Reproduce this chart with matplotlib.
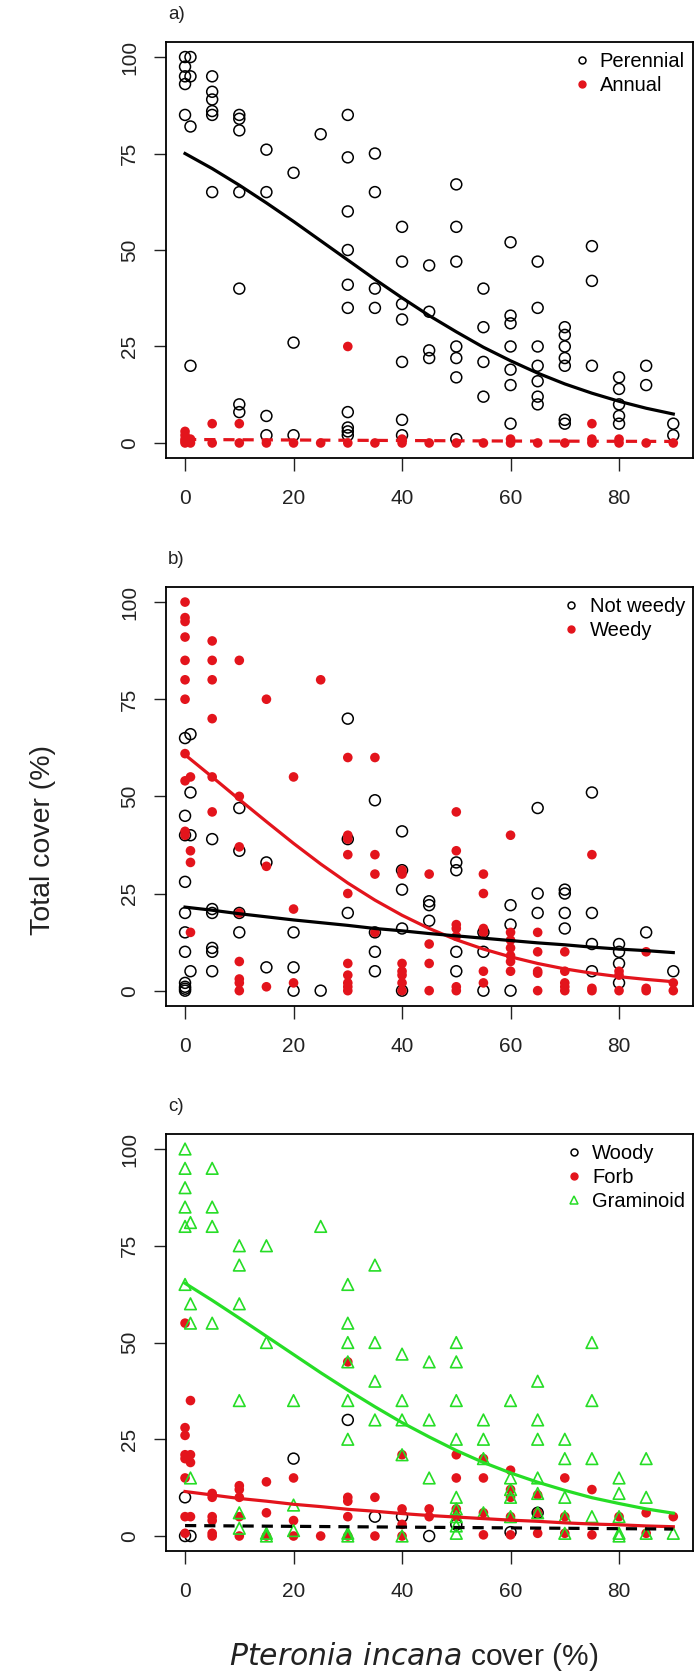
import numpy as np
import matplotlib
matplotlib.use('Agg')
import matplotlib.pyplot as plt
from matplotlib.lines import Line2D

plt.rcParams['font.family'] = ['Liberation Sans', 'DejaVu Sans']

# ---- a) perennial vs annual cover ----
per_x = [0]*5 + [1]*4 + [5]*6 + [10]*7 + [15]*4 + [20]*3 + [25] + [30]*10 + [35]*4 \
    + [40]*7 + [45]*4 + [50]*7 + [55]*4 + [60]*7 + [65]*7 + [70]*7 + [75]*3 + [80]*5 + [85]*2 + [90]*2
per_y = [100, 97.5, 95, 93, 85,  100, 95, 82, 20,  95, 91, 89, 86, 85, 65,
         85, 84, 81, 65, 40, 10, 8,  76, 65, 7, 2,  70, 26, 2,  80,
         85, 74, 60, 50, 41, 35, 8, 4, 3, 2,  75, 65, 40, 35,
         56, 47, 36, 32, 21, 6, 2,  46, 34, 24, 22,  67, 56, 47, 25, 22, 17, 1,
         40, 30, 21, 12,  52, 33, 31, 25, 19, 15, 5,  47, 35, 25, 20, 16, 12, 10,
         30, 28, 25, 22, 20, 6, 5,  51, 42, 20,  17, 14, 10, 7, 5,  20, 15,  5, 2]

ann_x = [0]*5 + [1]*2 + [5]*2 + [10]*2 + [15, 20, 25] + [30]*2 + [35] + [40]*2 + [45, 50, 55] \
    + [60]*2 + [65, 70] + [75]*3 + [80]*2 + [85, 90]
ann_y = [3, 2, 1, 0.5, 0,  1, 0,  5, 0,  5, 0,  0, 0, 0,  25, 0,  0,  0, 1,  0, 0, 0,
         0, 1,  0, 0,  5, 1, 0,  0, 1,  0, 0]

# fitted curves, read every 5 % of Pteronia cover
fit_x = [0, 5, 10, 15, 20, 25, 30, 35, 40, 45, 50, 55, 60, 65, 70, 75, 80, 85, 90]
per_fit = [75.0, 71.1, 66.8, 62.2, 57.4, 52.4, 47.4, 42.4, 37.6, 33.0,
           28.8, 24.8, 21.3, 18.1, 15.3, 12.9, 10.8, 9.0, 7.5]
ann_fit_x = [0, 30, 60, 90]
ann_fit = [0.9, 0.7, 0.5, 0.4]

# ---- b) not weedy vs weedy cover ----
nw_x = [0]*11 + [1]*4 + [5]*6 + [10]*4 + [15]*2 + [20]*3 + [25] + [30]*3 + [35]*4 \
    + [40]*5 + [45]*3 + [50]*4 + [55]*3 + [60]*3 + [65]*3 + [70]*4 + [75]*4 + [80]*4 + [85, 90]
nw_y = [65, 45, 40, 28, 20, 15, 10, 2, 1, 0.5, 0,  66, 51, 40, 5,  39, 21, 20, 11, 10, 5,
        47, 36, 20, 15,  33, 6,  15, 6, 0,  0,  70, 39, 20,  49, 15, 10, 5,
        41, 31, 26, 16, 0,  23, 22, 18,  33, 31, 10, 5,  15, 10, 0,  22, 17, 0,
        47, 25, 20,  26, 25, 20, 16,  51, 20, 12, 5,  12, 10, 7, 2,  15,  5]

wd_x = [0]*11 + [1]*4 + [5]*6 + [10]*8 + [15]*3 + [20]*3 + [25] + [30]*10 + [35]*4 \
    + [40]*7 + [45]*4 + [50]*7 + [55]*6 + [60]*7 + [65]*5 + [70]*5 + [75]*3 + [80]*3 + [85]*3 + [90]*2
wd_y = [100, 96, 95, 91, 85, 80, 75, 61, 54, 41, 40,  55, 36, 33, 15,  90, 85, 80, 70, 55, 46,
        85, 50, 37, 20, 7.5, 3, 2, 0,  75, 32, 1,  55, 21, 2,  80,
        60, 40, 39, 35, 25, 7, 4, 2, 1, 0,  60, 35, 30, 15,
        31, 30, 7, 5, 4, 2, 0,  30, 12, 7, 0,  46, 36, 17, 16, 14, 1, 0,
        30, 25, 16, 15, 5, 2,  40, 15, 13, 11, 9, 7.5, 5,  15, 10, 5, 4.5, 0,
        10, 5, 2, 1, 0,  35, 0.6, 0,  5, 4, 0,  10, 0.6, 0,  2, 0]

wd_fit = [60.7, 55.0, 49.2, 43.5, 37.9, 32.6, 27.7, 23.3, 19.4, 16.0,
          13.1, 10.7, 8.7, 7.0, 5.6, 4.5, 3.6, 2.9, 2.3]
nw_fit = [21.5, 20.7, 19.8, 19.0, 18.2, 17.5, 16.8, 16.0, 15.4, 14.7,
          14.1, 13.5, 12.9, 12.3, 11.8, 11.2, 10.7, 10.3, 9.8]

# ---- c) woody, forb and graminoid cover ----
woody_x = [0, 0, 1, 20, 30, 35, 40, 45, 50, 60, 65]
woody_y = [10, 0, 0, 20, 30, 5, 5, 0, 3, 1, 6]

forb_x = [0]*8 + [1]*4 + [5]*6 + [10]*5 + [15]*3 + [20]*3 + [25] + [30]*5 + [35]*2 \
    + [40]*4 + [45]*2 + [50]*4 + [55]*4 + [60]*5 + [65]*3 + [70]*3 + [75]*2 + [80] + [85]*2 + [90]
forb_y = [55, 28, 26, 21, 20, 15, 5, 0.7,  35, 21, 19, 5,  11, 10, 5, 4, 0.7, 0,
          13, 12, 10, 5, 0,  14, 6, 0,  15, 4, 0,  0,  45, 10, 9, 5, 0,  10, 0,
          21, 7, 3, 0,  7, 5,  21, 15, 7, 5,  20, 15, 6, 0.3,  17, 12, 10, 5, 0.3,
          10.6, 6, 0.7,  15, 5, 0.7,  12, 0.3,  5,  6, 0.7,  5]

gram_x = [0]*6 + [1]*4 + [5]*4 + [10]*6 + [15]*4 + [20]*3 + [25] + [30]*8 + [35]*4 \
    + [40]*5 + [45]*3 + [50]*9 + [55]*4 + [60]*5 + [65]*6 + [70]*5 + [75]*4 + [80]*5 + [85]*3 + [90]
gram_y = [100, 95, 90, 85, 80, 65,  81, 60, 55, 15,  95, 85, 80, 55,
          75, 70, 60, 35, 6, 2,  75, 50, 0.7, 0,  35, 8, 1.4,  80,
          65, 55, 50, 45, 35, 25, 0.7, 0,  70, 50, 40, 30,  47, 35, 30, 21, 0,
          45, 30, 15,  50, 45, 35, 25, 10, 7, 5, 2.6, 0.7,  30, 25, 20, 6,
          35, 15, 12, 10, 5,  40, 30, 25, 15, 11, 6,  25, 20, 10, 5, 0.7,
          50, 35, 20, 5,  15, 11, 5, 0.7, 0,  20, 10, 0.7,  0.7]

gram_fit = [65.3, 60.9, 56.3, 51.6, 46.9, 42.2, 37.7, 33.4, 29.3, 25.6,
            22.1, 19.0, 16.3, 13.9, 11.8, 9.9, 8.4, 7.0, 5.9]
forb_fit = [11.5, 10.6, 9.7, 9.0, 8.2, 7.6, 6.9, 6.4, 5.8, 5.3,
            4.9, 4.5, 4.1, 3.8, 3.4, 3.1, 2.9, 2.6, 2.4]
woody_fit_x = [0, 30, 60, 90]
woody_fit = [2.7, 2.4, 2.1, 1.8]

RED = '#e3141c'
GREEN = '#26dd26'

fig = plt.figure(figsize=(6.94, 16.8), dpi=100)

def panel(rect, letter):
    ax = fig.add_axes(rect)
    ax.set_xlim(-3.6, 93.6)
    ax.set_ylim(-4, 104)
    ax.set_xticks([0, 20, 40, 60, 80])
    ax.set_yticks([0, 25, 50, 75, 100])
    ax.tick_params(direction='out', length=9, width=1, labelsize=15, colors='#222222')
    ax.tick_params(axis='x', pad=13)
    ax.tick_params(axis='y', pad=10, labelrotation=90)
    for lbl in ax.get_yticklabels():
        lbl.set_va('center')
    for sp in ax.spines.values():
        sp.set_linewidth(1.3)
    fig.text(rect[0] + 0.004, rect[1] + rect[3] + 0.016, letter, fontsize=13.5,
             ha='left', va='center', color='#222222')
    return ax

def open_pt(ax, x, y, color='black'):
    ax.scatter(x, y, s=62, facecolors='none', edgecolors=color, linewidths=1.1, zorder=3)

def dot(ax, x, y):
    ax.scatter(x, y, s=48, color=RED, edgecolors='none', zorder=4)

def tri(ax, x, y):
    ax.scatter(x, y, s=70, marker='^', facecolors='none', edgecolors=GREEN, linewidths=1.2, zorder=5)

def add_legend(ax, handles, labels):
    ax.legend(handles, labels, loc='upper right', bbox_to_anchor=(0.985, 0.975),
              frameon=False, fontsize=14.5, handlelength=0.6, handletextpad=0.6,
              labelspacing=0.25, borderpad=0, borderaxespad=0)

def h_open():
    return Line2D([], [], ls='none', marker='o', ms=5, mfc='none', mec='black', mew=1.1)

def h_dot():
    return Line2D([], [], ls='none', marker='o', ms=5, color=RED)

def h_tri():
    return Line2D([], [], ls='none', marker='^', ms=6, mfc='none', mec=GREEN, mew=1.1)

# a)
ax = panel([0.2385, 0.72714, 0.7598, 0.2481], 'a)')
open_pt(ax, per_x, per_y)
dot(ax, ann_x, ann_y)
ax.plot(fit_x, per_fit, color='black', lw=2.3, zorder=6)
ax.plot(ann_fit_x, ann_fit, color=RED, lw=2.3, ls=(0, (3.5, 2.5)), zorder=6)
add_legend(ax, [h_open(), h_dot()], ['Perennial', 'Annual'])

# b)
ax = panel([0.2385, 0.40107, 0.7598, 0.2498], 'b)')
open_pt(ax, nw_x, nw_y)
dot(ax, wd_x, wd_y)
ax.plot(fit_x, wd_fit, color=RED, lw=2.3, zorder=6)
ax.plot(fit_x, nw_fit, color='black', lw=2.3, zorder=6)
add_legend(ax, [h_open(), h_dot()], ['Not weedy', 'Weedy'])

# c)
ax = panel([0.2385, 0.07649, 0.7598, 0.2488], 'c)')
open_pt(ax, woody_x, woody_y)
dot(ax, forb_x, forb_y)
tri(ax, gram_x, gram_y)
ax.plot(fit_x, gram_fit, color=GREEN, lw=2.3, zorder=6)
ax.plot(fit_x, forb_fit, color=RED, lw=2.3, zorder=6)
ax.plot(woody_fit_x, woody_fit, color='black', lw=2.3, ls=(0, (3.5, 2.5)), zorder=6)
add_legend(ax, [h_open(), h_dot(), h_tri()], ['Woody', 'Forb', 'Graminoid'])

fig.text(0.062, 0.5, 'Total cover (%)', rotation=90, fontsize=20.5, ha='center', va='center',
         color='#222222')
fig.text(0.596, 0.0137, r'$\it{Pteronia\ incana}$ cover (%)', fontsize=21.5, ha='center',
         va='center', color='#222222')

fig.savefig('out.png', dpi=100)
